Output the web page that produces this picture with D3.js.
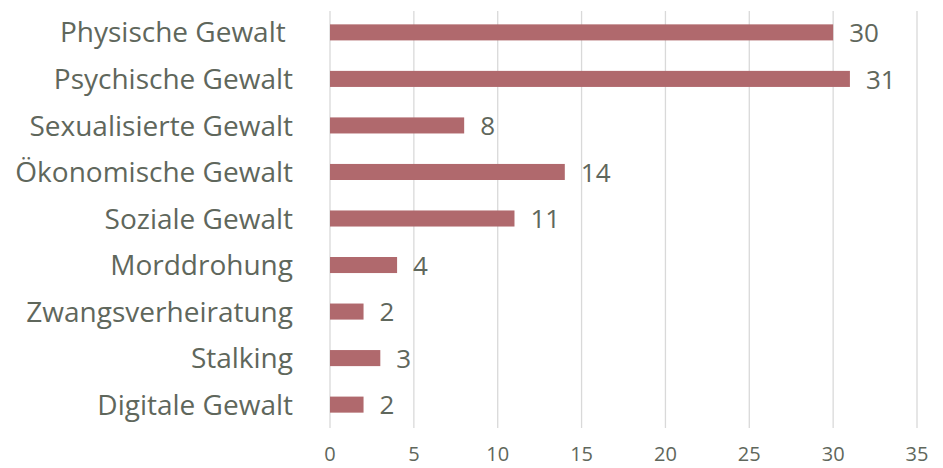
<!DOCTYPE html>
<html>
<head>
<meta charset="utf-8">
<script src="https://cdn.jsdelivr.net/npm/d3@7"></script>
<style>
  body { margin: 0; background: #fff; }
  svg text { font-family: "Open Sans", Lato, sans-serif; fill: #5f675c; }
</style>
</head>
<body>
<div id="chart"></div>
<script>
// Daten
const categories = ["Physische Gewalt ", "Psychische Gewalt", "Sexualisierte Gewalt", "Ökonomische Gewalt",
  "Soziale Gewalt", "Morddrohung", "Zwangsverheiratung", "Stalking", "Digitale Gewalt"];
const values = [30, 31, 8, 14, 11, 4, 2, 3, 2];
const xTicks = [0, 5, 10, 15, 20, 25, 30, 35];

const W = 943, H = 468;
const margin = { top: 9, right: 25, bottom: 40, left: 330 };

const svg = d3.select("#chart").append("svg")
  .attr("width", W).attr("height", H);

const x = d3.scaleLinear().domain([0, 35]).range([margin.left, 917]);
const y = d3.scaleBand().domain(categories).range([margin.top, H - margin.bottom]).paddingInner(0.655).paddingOuter(0.33);

// Gitterlinien
svg.append("g").selectAll("line")
  .data(xTicks).enter().append("line")
  .attr("x1", d => x(d)).attr("x2", d => x(d))
  .attr("y1", margin.top + 2).attr("y2", H - margin.bottom)
  .attr("stroke", "#d9d9d9").attr("stroke-width", 1.3);

// Balken
svg.append("g").selectAll("rect")
  .data(values).enter().append("rect")
  .attr("x", x(0))
  .attr("y", (d, i) => y(categories[i]))
  .attr("width", d => x(d) - x(0))
  .attr("height", y.bandwidth())
  .attr("fill", "#b0696d");

// Werte
svg.append("g").selectAll("text")
  .data(values).enter().append("text")
  .attr("x", d => x(d) + 16)
  .attr("y", (d, i) => y(categories[i]) + y.bandwidth() / 2)
  .attr("dy", "0.38em")
  .style("font-size", "26px")
  .text(d => d);

// Kategorien
svg.append("g").selectAll("text")
  .data(categories).enter().append("text")
  .attr("x", 293)
  .attr("y", d => y(d) + y.bandwidth() / 2)
  .attr("dy", "0.36em")
  .attr("text-anchor", "end")
  .style("font-size", "28px")
  .style("white-space", "pre")
  .text(d => d);

// X-Achse
svg.append("g").selectAll("text")
  .data(xTicks).enter().append("text")
  .attr("x", d => x(d))
  .attr("y", 454)
  .attr("dy", "0.35em")
  .attr("text-anchor", "middle")
  .style("font-size", "20px")
  .text(d => d);
</script>
</body>
</html>
